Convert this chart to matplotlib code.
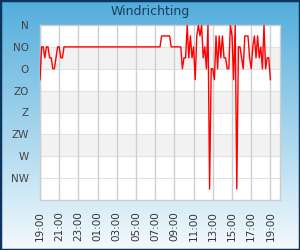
import numpy as np
import matplotlib
matplotlib.use('Agg')
import matplotlib.pyplot as plt
from matplotlib.patches import Rectangle

# wind direction in degrees, one reading per 10 minutes from 19:00
dirs = ([112.5, 45, 45, 67.5, 45, 45, 67.5, 67.5, 90, 90, 67.5, 45, 45, 67.5, 67.5]
        + [45] * 61
        + [22.5] * 6
        + [45] * 6
        + [45, 90, 67.5, 67.5, 0, 67.5, 22.5, 67.5, 45, 112.5,
           22.5, 0, 22.5, 0, 67.5, 45, 90, 0, 337.5, 90,
           90, 112.5, 22.5, 90, 22.5, 67.5, 22.5, 67.5, 67.5, 90,
           90, 0, 22.5, 112.5, 0, 337.5, 45, 45, 67.5, 90,
           22.5, 22.5, 22.5, 67.5, 90, 45, 22.5, 67.5, 22.5, 67.5,
           45, 90, 0, 90, 67.5, 67.5, 112.5])
hours = np.arange(len(dirs)) / 6.0   # hours after 19:00

ytick_vals = [0, 45, 90, 135, 180, 225, 270, 315]
ytick_labels = ['N', 'NO', 'O', 'ZO', 'Z', 'ZW', 'W', 'NW']
xtick_vals = list(range(0, 25, 2))
xtick_labels = ['19:00', '21:00', '23:00', '01:00', '03:00', '05:00', '07:00',
                '09:00', '11:00', '13:00', '15:00', '17:00', '19:00']

fig = plt.figure(figsize=(3, 2.5), dpi=100)

# gradient background
bg = fig.add_axes([0, 0, 1, 1])
grad = np.linspace(0, 1, 256).reshape(-1, 1)
top = np.array([0x52, 0xad, 0xdc]) / 255.0
bot = np.array([0xf4, 0xfa, 0xfd]) / 255.0
img = top[None, None, :] * (1 - grad[:, :, None]) + bot[None, None, :] * grad[:, :, None]
bg.imshow(img, aspect='auto', extent=[0, 1, 0, 1])
bg.add_patch(Rectangle((0, 0), 1, 1, fill=False, edgecolor='#0b355f', lw=2.5,
                       transform=bg.transAxes))
bg.set_xlim(0, 1)
bg.set_ylim(0, 1)
bg.axis('off')

fig.text(0.5, 0.952, 'Windrichting', ha='center', va='center',
         fontsize=9, color='#1b3b5e')

ax = fig.add_axes([40 / 300, 1 - 200 / 250, 240 / 300, 175 / 250])
ax.set_facecolor('white')
for lo in [45, 135, 225]:
    ax.axhspan(lo, lo + 45, color='#f2f2f2', zorder=0, lw=0)
for y in ytick_vals[1:]:
    ax.axhline(y, color='#e2e2e2', lw=0.8, zorder=1)
for x in xtick_vals:
    ax.axvline(x, color='#cfcfcf', lw=1.0, zorder=1)

ax.plot(hours, dirs, color='red', lw=1.0, zorder=3)

ax.set_xlim(0, 25)
ax.set_ylim(360, 0)
ax.set_yticks(ytick_vals)
ax.set_yticklabels(ytick_labels, fontsize=7.5, color='#444444')
ax.set_xticks(xtick_vals)
ax.set_xticklabels(xtick_labels, fontsize=7.5, color='#333333', rotation=90)
ax.tick_params(axis='both', length=0)
ax.tick_params(axis='y', pad=8)
ax.tick_params(axis='x', pad=8)
for s in ax.spines.values():
    s.set_color('#cccccc')
    s.set_linewidth(1.0)

fig.savefig('out.png', dpi=100)
